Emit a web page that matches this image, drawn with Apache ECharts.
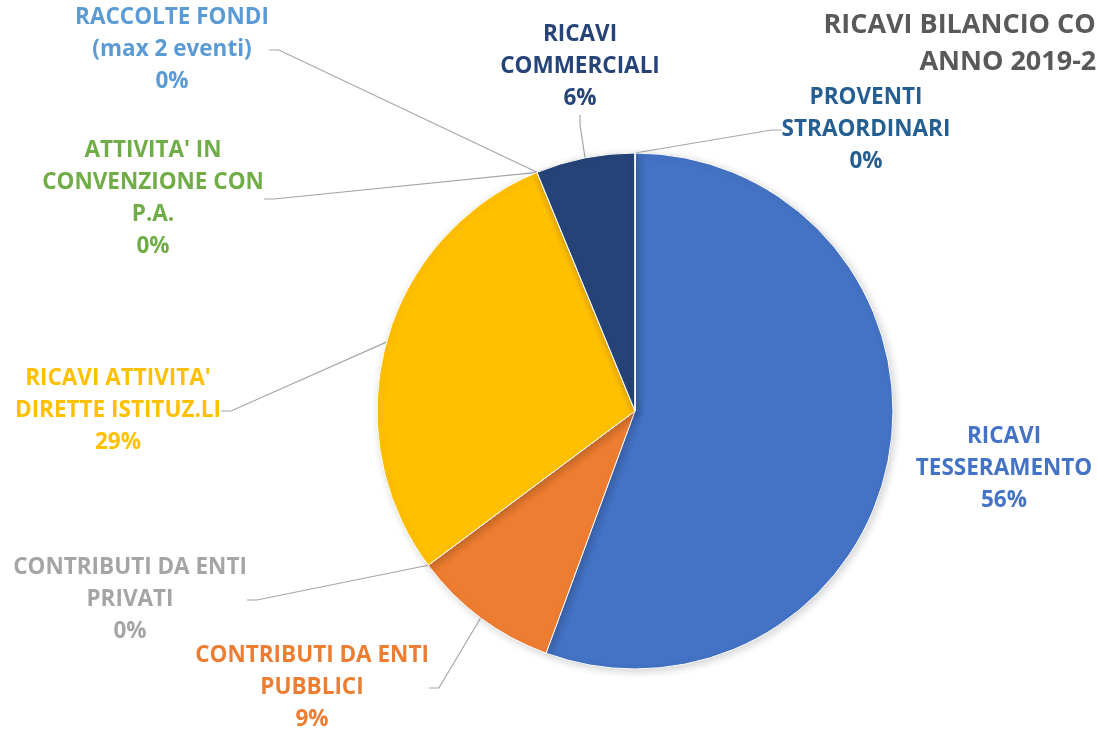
<!DOCTYPE html>
<html>
<head>
<meta charset="utf-8">
<script src="https://cdn.jsdelivr.net/npm/echarts@6/dist/echarts.min.js"></script>
<style>
  html, body { margin: 0; padding: 0; background: #fff; }
  #chart { width: 1097px; height: 731px; }
</style>
</head>
<body>
<div id="chart"></div>
<script>
// slices, clockwise from 12 o'clock
const categories = [
  "RICAVI\nTESSERAMENTO",
  "CONTRIBUTI DA ENTI\nPUBBLICI",
  "CONTRIBUTI DA ENTI\nPRIVATI",
  "RICAVI ATTIVITA'\nDIRETTE ISTITUZ.LI",
  "ATTIVITA' IN\nCONVENZIONE CON\nP.A.",
  "RACCOLTE FONDI\n(max 2 eventi)",
  "RICAVI\nCOMMERCIALI",
  "PROVENTI\nSTRAORDINARI",
]
const values = [55.6, 9.2, 0, 29.0, 0, 0, 6.2, 0]

const colors = ["#4472C4", "#ED7D31", "#A5A5A5", "#FFC000", "#70AD47", "#5B9BD5", "#264478", "#255E91"]
// where each label sits (centre of the text block)
const labelPos = [
  [1004, 469], [312, 688], [130, 600], [118, 411],
  [153, 199], [172, 50], [580, 67], [866, 130],
]

const chart = echarts.init(document.getElementById("chart"))

chart.setOption({
  backgroundColor: "#fff",
  animation: false,
  title: {
    text: "RICAVI BILANCIO CONSUNTIVO\nANNO 2019-2020",
    left: 1026,
    top: 2,
    textAlign: "center",
    textStyle: {
      fontFamily: "Open Sans",
      fontWeight: "bold",
      fontSize: 27,
      lineHeight: 37,
      color: "#595959",
    },
  },
  series: [
    {
      type: "pie",
      center: [635, 411],
      radius: 258,
      startAngle: 90,
      clockwise: true,
      percentPrecision: 0,
      avoidLabelOverlap: false,
      itemStyle: {
        borderColor: "#fff",
        borderWidth: 1,
        shadowBlur: 8,
        shadowOffsetX: 2,
        shadowOffsetY: 2,
        shadowColor: "rgba(0,0,0,0.18)",
      },
      label: {
        show: true,
        formatter: "{b}\n{d}%",
        fontFamily: "Open Sans",
        fontWeight: "bold",
        fontSize: 22.5,
        lineHeight: 32,
        align: "center",
      },
      labelLine: {
        show: true,
        length: 10,
        length2: 10,
        lineStyle: {color: "#A6A6A6", width: 1.2},
      },
      labelLayout: params => ({
        x: labelPos[params.dataIndex][0],
        y: labelPos[params.dataIndex][1],
        align: "center",
        verticalAlign: "middle",
      }),
      data: categories.map((name, i) => ({
        name,
        value: values[i],
        itemStyle: {color: colors[i]},
        label: {color: colors[i]},
        labelLine: {show: i !== 0},
      })),
    },
  ],
})
</script>
</body>
</html>
